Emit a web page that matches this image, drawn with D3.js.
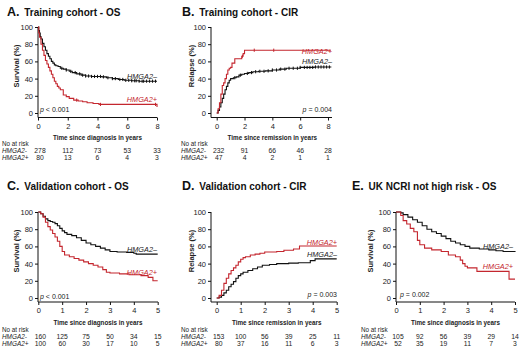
<!DOCTYPE html>
<html><head><meta charset="utf-8">
<script src="https://cdn.jsdelivr.net/npm/d3@7"></script>
<style>body{margin:0;background:#fff}svg{display:block;font-family:"Liberation Sans",Arial,sans-serif}</style>
</head><body><svg id="c" width="520" height="349"></svg>
<script>
// ---------- DATA ----------
const yTicks = [0, 20, 40, 60, 80, 100];
const xTicks8 = [0, 2, 4, 6, 8];
const xTicks5 = [0, 1, 2, 3, 4, 5];

// Panel A: Training cohort - OS
const aNegT = [0,0.05,0.1,0.15,0.2,0.3,0.4,0.5,0.6,0.7,0.8,0.9,1.0,1.1,1.2,1.35,1.5,1.7,1.9,2.1,2.3,2.6,2.9,3.2,3.6,4.3,4.6,5.0,5.4,5.8,6.3,6.8,8.0];
const aNegS = [100,96,93,89,86,81,77,73,69,66,63,60,58,56,55,54,52,51,50,48.5,47,45.5,44,43,42.5,42,41,40,39,38,37.5,37,37];
const aNegC = [1.6,1.9,2.2,2.5,2.8,3.0,3.2,3.4,3.6,3.8,4.0,4.2,4.4,4.7,5.0,5.2,5.5,5.7,5.9,6.1,6.3,6.5,6.6,6.8,7.0,7.1,7.3,7.5,7.7,7.9];
const aPosT = [0,0.05,0.1,0.2,0.3,0.4,0.5,0.6,0.7,0.8,0.9,1.0,1.1,1.2,1.3,1.4,1.5,1.7,1.9,2.1,2.4,2.7,3.0,3.3,3.7,4.1,7.9,8.0];
const aPosS = [100,93,88,80,73,67,61,57,53,49,45,41,37,34,31,29,27,21,19,17,15,14,13,12,11,10,10,7];
const aPosC = [2.6,4.2,7.9];
const aRiskNeg = [278,112,73,53,33];
const aRiskPos = [80,13,6,4,3];

// Panel B: Training cohort - CIR
const bNegT = [0,0.1,0.2,0.3,0.4,0.5,0.6,0.7,0.8,0.9,1.0,1.2,1.4,1.6,1.8,2.0,2.3,2.6,3.0,3.5,4.0,4.5,5.0,6.0,7.0,8.2];
const bNegS = [0,3,7,12,17,22,27,31,35,38,40,41,42,44,45,46,47,48,48.5,49,50,51,52,53,53.5,54];
const bNegC = [1.3,1.7,2.2,2.5,2.8,3.1,3.4,3.7,4.0,4.3,4.6,4.9,5.2,5.5,5.8,6.0,6.3,6.5,6.7,6.9,7.1,7.3,7.5,7.7,7.9,8.1];
const bPosT = [0,0.1,0.2,0.3,0.4,0.5,0.6,0.7,0.8,0.9,1.0,1.1,1.3,1.8,1.9,2.0,8.2];
const bPosS = [0,5,12,22,32,35,40,45,50,52,53,58,63,66,69,73,73];
const bPosC = [1.85,2.7,4.1];
const bRiskNeg = [232,91,66,46,28];
const bRiskPos = [47,4,2,1,1];

// Panel C: Validation cohort - OS
const cNegT = [0,0.1,0.2,0.3,0.4,0.5,0.6,0.7,0.8,0.9,1.0,1.1,1.2,1.4,1.6,1.8,2.0,2.2,2.4,2.6,2.8,3.0,3.3,3.7,4.0,4.1,5.0];
const cNegS = [100,98,95,92,90,89,88,86.5,84,81,78,76,74,72.5,70,67,64,62,60,58,56,54,53.5,53,52,51,51];
const cPosT = [0,0.1,0.2,0.3,0.4,0.5,0.6,0.7,0.8,0.9,1.0,1.1,1.3,1.5,1.7,1.9,2.1,2.3,2.5,2.7,2.85,3.0,3.4,3.8,4.3,4.6,4.8,5.0];
const cPosS = [100,98,94,88,83,79,75,71,66,60,54,50,48,46,44,42,40,38,36,33,30,29,28,27,26,24,20,20];
const cRiskNeg = [160,125,75,50,34,15];
const cRiskPos = [100,60,30,17,10,5];

// Panel D: Validation cohort - CIR
const dNegT = [0,0.1,0.2,0.3,0.4,0.5,0.6,0.7,0.8,0.9,1.0,1.1,1.3,1.5,1.7,1.9,2.2,2.5,3.0,3.4,3.9,4.1,5.0];
const dNegS = [0,1,3,6,9,13,16,19,23,26,28,30,32,34,36,38,39,40,40.5,41,43.5,45.5,45.5];
const dPosT = [0,0.1,0.2,0.3,0.4,0.5,0.6,0.7,0.8,0.9,1.0,1.1,1.2,1.4,1.6,1.8,2.0,2.5,2.8,3.2,3.45,5.0];
const dPosS = [0,3,9,17,23,28,32,35,38,42,45,47,48,50,51,52,53.5,54,55.5,57,60.5,60.5];
const dRiskNeg = [153,100,56,39,25,11];
const dRiskPos = [80,37,16,11,6,3];

// Panel E: UK NCRI not high risk - OS
const eNegT = [0,0.2,0.3,0.5,0.7,0.9,1.1,1.3,1.5,1.7,1.9,2.1,2.3,2.5,2.7,2.9,3.1,3.5,3.9,4.2,4.5,5.0];
const eNegS = [100,99,97,94,91,88,84,80,77,75,72,69,66,64,62,60,58,57,56,55,54,53.5];
const ePosT = [0,0.2,0.3,0.45,0.6,0.75,0.9,1.0,1.2,1.5,1.9,2.2,2.5,2.7,2.8,2.9,3.0,3.4,4.7,4.75,5.0];
const ePosS = [100,96,90,86,81,77,67,62,58,56,54,50,48,44,40,37,35,31,31,22,22];
const eRiskNeg = [105,92,56,39,29,14];
const eRiskPos = [52,35,19,11,7,3];

// ---------- LAYOUT ----------
const RED = "#c4262e";
const rowTop = {yTop:27, yBot:113, axisY:117.5, titleY:16, xTitleY:139.5, narY:145.5, r1Y:152.5, r2Y:159.5};
const rowBot = {yTop:212, yBot:298, axisY:302, titleY:190, xTitleY:325, narY:331.5, r1Y:338.5, r2Y:345.5};

const panels = [
  Object.assign({letter:"A.", title:"Training cohort - OS", yTitle:"Survival (%)", xTitle:"Time since diagnosis in years",
    xMax:8, xTicks:xTicks8, x0:38, x1:157, axL:38, axR:157, tX:7, yTX:16, narX:2,
    neg:{t:aNegT,s:aNegS,c:aNegC}, pos:{t:aPosT,s:aPosS,c:aPosC}, riskNeg:aRiskNeg, riskPos:aRiskPos,
    negLabY:79, posLabY:102, labR:157, p:"< 0.001", pX:40, pY:112, pAnchor:"start"}, rowTop),
  Object.assign({letter:"B.", title:"Training cohort - CIR", yTitle:"Relapse (%)", xTitle:"Time since remission in years",
    xMax:8, xTicks:xTicks8, x0:216.7, x1:328, axL:211, axR:332, tX:182, yTX:191, narX:181,
    neg:{t:bNegT,s:bNegS,c:bNegC}, pos:{t:bPosT,s:bPosS,c:bPosC}, riskNeg:bRiskNeg, riskPos:bRiskPos,
    negLabY:64, posLabY:53.5, labR:332, p:"= 0.004", pX:332, pY:112, pAnchor:"end"}, rowTop),
  Object.assign({letter:"C.", title:"Validation cohort - OS", yTitle:"Survival (%)", xTitle:"Time since diagnosis in years",
    xMax:5, xTicks:xTicks5, x0:38.3, x1:157.7, axL:38, axR:158, tX:7, yTX:16, narX:2,
    neg:{t:cNegT,s:cNegS,c:[]}, pos:{t:cPosT,s:cPosS,c:[]}, riskNeg:cRiskNeg, riskPos:cRiskPos,
    negLabY:252, posLabY:274.5, labR:157, p:"< 0.001", pX:40, pY:299, pAnchor:"start"}, rowBot),
  Object.assign({letter:"D.", title:"Validation cohort - CIR", yTitle:"Relapse (%)", xTitle:"Time since remission in years",
    xMax:5, xTicks:xTicks5, x0:216.7, x1:336.7, axL:211, axR:337, tX:182, yTX:191, narX:181,
    neg:{t:dNegT,s:dNegS,c:[]}, pos:{t:dPosT,s:dPosS,c:[]}, riskNeg:dRiskNeg, riskPos:dRiskPos,
    negLabY:257, posLabY:244.5, labR:337, p:"= 0.003", pX:337, pY:296.5, pAnchor:"end"}, rowBot),
  Object.assign({letter:"E.", title:"UK NCRI not high risk - OS", yTitle:"Survival (%)", xTitle:"Time since diagnosis in years",
    xMax:5, xTicks:xTicks5, x0:396, x1:515, axL:396, axR:515, tX:352, yTX:370, narX:361,
    neg:{t:eNegT,s:eNegS,c:[]}, pos:{t:ePosT,s:ePosS,c:[]}, riskNeg:eRiskNeg, riskPos:eRiskPos,
    negLabY:248.5, posLabY:268.5, labR:513, p:"= 0.002", pX:400, pY:296.5, pAnchor:"start"}, rowBot)
];

const svg = d3.select("#c");

function stepVal(t, s, tt) {
  const i = d3.bisectRight(t, tt) - 1;
  return s[Math.max(0, i)];
}

panels.forEach(P => {
  const g = svg.append("g");
  const x = d3.scaleLinear().domain([0, P.xMax]).range([P.x0, P.x1]);
  const y = d3.scaleLinear().domain([0, 100]).range([P.yBot, P.yTop]);

  // Title
  const tt = g.append("text").attr("x", P.tX).attr("y", P.titleY).attr("font-weight", "bold").attr("fill", "#111");
  tt.append("tspan").attr("font-size", "12.5px").text(P.letter);
  tt.append("tspan").attr("font-size", "10px").attr("dx", 2).text(" " + P.title);

  // Y axis
  const ya = g.append("g").attr("transform", `translate(${P.axL},0)`)
    .call(d3.axisLeft(y).tickValues(yTicks).tickSize(3).tickPadding(2).tickSizeOuter(0));
  ya.select(".domain").remove();
  ya.selectAll("text").attr("font-size", "7.5px").attr("font-family", null).attr("fill", "#222");
  ya.selectAll("line").attr("stroke", "#111");
  g.append("line").attr("x1", P.axL).attr("x2", P.axL).attr("y1", P.yTop).attr("y2", P.axisY).attr("stroke", "#111").attr("stroke-width", 1);

  // X axis
  const xa = g.append("g").attr("transform", `translate(0,${P.axisY})`)
    .call(d3.axisBottom(x).tickValues(P.xTicks).tickFormat(d3.format("d")).tickSize(3).tickPadding(3).tickSizeOuter(0));
  xa.select(".domain").remove();
  xa.selectAll("text").attr("font-size", "7.5px").attr("font-family", null).attr("fill", "#222");
  xa.selectAll("line").attr("stroke", "#111");
  g.append("line").attr("x1", P.axL).attr("x2", P.axR).attr("y1", P.axisY).attr("y2", P.axisY).attr("stroke", "#111").attr("stroke-width", 1);

  // Axis titles
  g.append("text").attr("x", (P.x0 + P.x1) / 2).attr("y", P.xTitleY).attr("text-anchor", "middle")
    .attr("font-size", "6.3px").attr("font-weight", "bold").attr("fill", "#222").text(P.xTitle);
  g.append("text").attr("transform", `translate(${P.yTX},${(P.yTop + P.yBot) / 2 - 4}) rotate(-90)`)
    .attr("text-anchor", "middle").attr("dy", "0.35em").attr("font-size", "7.5px").attr("font-weight", "bold").attr("fill", "#222").text(P.yTitle);

  // Curves
  const line = d3.line().x(d => x(d[0])).y(d => y(d[1])).curve(d3.curveStepAfter);
  [[P.neg, "#111"], [P.pos, RED]].forEach(([S, col]) => {
    const pts = S.t.map((t, i) => [t, S.s[i]]);
    g.append("path").attr("d", line(pts)).attr("fill", "none").attr("stroke", col).attr("stroke-width", 1.1);
    g.selectAll(null).data(S.c).enter().append("line")
      .attr("x1", d => x(d)).attr("x2", d => x(d))
      .attr("y1", d => y(stepVal(S.t, S.s, d)) - 1.6).attr("y2", d => y(stepVal(S.t, S.s, d)) + 1.6)
      .attr("stroke", col).attr("stroke-width", 1);
  });

  // Curve labels
  g.append("text").attr("x", P.labR).attr("y", P.negLabY).attr("text-anchor", "end").attr("font-size", "7.3px")
    .attr("font-style", "italic").attr("fill", "#222").text("HMGA2\u2013");
  g.append("text").attr("x", P.labR).attr("y", P.posLabY).attr("text-anchor", "end").attr("font-size", "7.3px")
    .attr("font-style", "italic").attr("fill", RED).text("HMGA2+");

  // p value
  const pt = g.append("text").attr("x", P.pX).attr("y", P.pY).attr("text-anchor", P.pAnchor).attr("font-size", "7px").attr("fill", "#222");
  pt.append("tspan").attr("font-style", "italic").text("p");
  pt.append("tspan").text(" " + P.p);

  // Number at risk
  g.append("text").attr("x", P.narX).attr("y", P.narY).attr("font-size", "6.3px").attr("fill", "#222").text("No at risk");
  g.append("text").attr("x", P.narX).attr("y", P.r1Y).attr("font-size", "6.4px").attr("font-style", "italic").attr("fill", "#222").text("HMGA2-");
  g.append("text").attr("x", P.narX).attr("y", P.r2Y).attr("font-size", "6.4px").attr("font-style", "italic").attr("fill", "#222").text("HMGA2+");
  [[P.riskNeg, P.r1Y], [P.riskPos, P.r2Y]].forEach(([arr, yy]) => {
    g.selectAll(null).data(arr).enter().append("text")
      .attr("x", (d, i) => x(P.xTicks[i]) + (i === 0 ? 2 : 0)).attr("y", yy).attr("text-anchor", "middle")
      .attr("font-size", "6.8px").attr("fill", "#222").text(d => d);
  });
});
</script></body></html>
